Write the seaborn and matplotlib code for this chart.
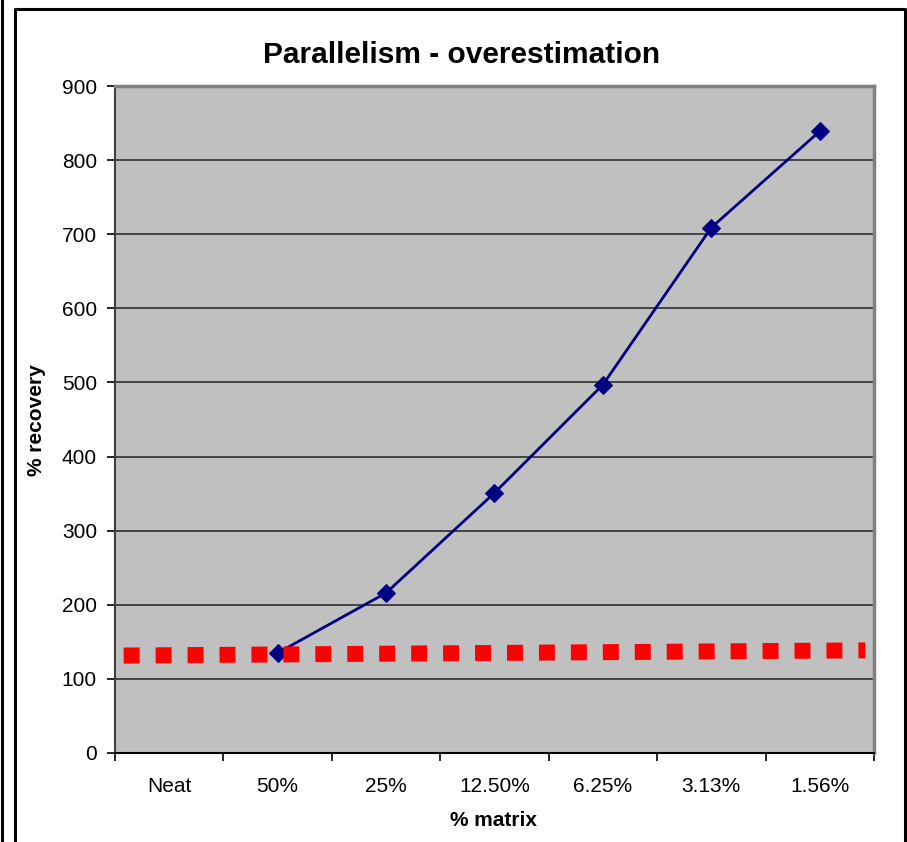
import matplotlib
matplotlib.use("Agg")
import matplotlib.pyplot as plt
from matplotlib.lines import Line2D
import seaborn as sns
import pandas as pd
import numpy as np

# ---- data ----
categories = ["Neat", "50%", "25%", "12.50%", "6.25%", "3.13%", "1.56%"]
recovery_cats = ["50%", "25%", "12.50%", "6.25%", "3.13%", "1.56%"]
recovery_values = [135, 216, 351, 497, 709, 839]
reference_span = [-0.42, 6.42]          # extent of the red reference line (category units)
reference_values = [131.5, 138.5]
y_ticks = [0, 100, 200, 300, 400, 500, 600, 700, 800, 900]
title = "Parallelism - overestimation"
xlabel = "% matrix"
ylabel = "% recovery"

sns.set_theme(style="white")
plt.rcParams["font.family"] = ["Liberation Sans", "DejaVu Sans"]

W, H = 907, 842
fig = plt.figure(figsize=(W / 100, H / 100), dpi=100)
fig.patch.set_facecolor("white")

L, R, T, B = 115, 874, 86, 753
ax = fig.add_axes([L / W, (H - B) / H, (R - L) / W, (B - T) / H])
ax.set_facecolor("#C0C0C0")

df = pd.DataFrame({
    "x": [categories.index(c) for c in recovery_cats],
    "y": recovery_values,
})
sns.lineplot(data=df, x="x", y="y", ax=ax, color="#000080", linewidth=2.0,
             marker="D", markersize=9.5, markeredgecolor="#000080",
             markerfacecolor="#000080", zorder=3)

ref = pd.DataFrame({"x": reference_span, "y": reference_values})
sns.lineplot(data=ref, x="x", y="y", ax=ax, color="#FF0000", linewidth=11.5,
             zorder=4)
ref_line = ax.lines[-1]
ref_line.set_dashes((1, 1))
ref_line.set_dash_capstyle("butt")

ax.set_xlim(-0.5, len(categories) - 0.5)
ax.set_ylim(0, 900)
ax.set_yticks(y_ticks)
ax.set_yticklabels([str(v) for v in y_ticks], fontsize=15)
ax.set_xticks(range(len(categories)))
ax.set_xticklabels(categories, fontsize=15)
ax.set_xticks(np.arange(-0.5, len(categories), 1.0), minor=True)
ax.tick_params(axis="x", which="major", length=0, pad=17, colors="black")
ax.tick_params(axis="x", which="minor", length=6, width=1.2, color="black",
               direction="out", bottom=True)
ax.tick_params(axis="y", which="major", length=6, width=1.2, color="black",
               direction="out", left=True, pad=7, colors="black")

for v in y_ticks[1:]:
    ax.axhline(v, color="#3A3A3A", linewidth=1.3, zorder=1)

ax.spines["left"].set_color("#404040")
ax.spines["left"].set_linewidth(1.5)
ax.spines["bottom"].set_color("black")
ax.spines["bottom"].set_linewidth(1.5)
ax.spines["top"].set_color("#808080")
ax.spines["top"].set_linewidth(2.5)
ax.spines["right"].set_color("#808080")
ax.spines["right"].set_linewidth(2.5)
for s in ax.spines.values():
    s.set_visible(True)

ax.set_xlabel("")
ax.set_ylabel("")

fig.text(462 / W, 1 - 55 / H, title, ha="center", va="center",
         fontsize=21.5, fontweight="bold", color="black")
fig.text(494 / W, 1 - 820 / H, xlabel, ha="center", va="center",
         fontsize=15, fontweight="bold", color="black")
fig.text(37 / W, 1 - 420 / H, ylabel, ha="center", va="center", rotation=90,
         fontsize=15, fontweight="bold", color="black")

# outer frame lines
def px_line(xs, ys, lw):
    fig.add_artist(Line2D([x / W for x in xs], [1 - y / H for y in ys],
                          color="black", linewidth=lw, transform=fig.transFigure))

px_line([1.5, 1.5], [0, H], 2.2)
px_line([15, 15, 905, 905], [H, 9, 9, H], 2.2)

fig.savefig("out.png", dpi=100)
